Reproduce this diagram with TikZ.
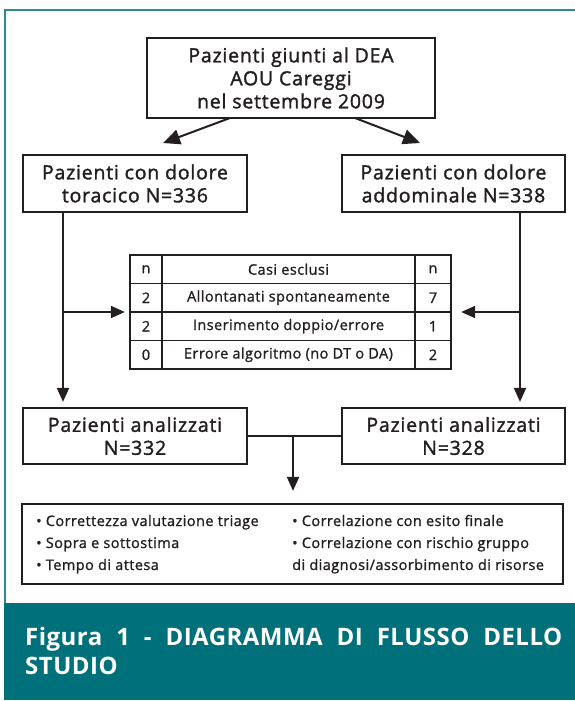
\documentclass[tikz,border=0pt]{standalone}
\usepackage{fontspec}
\setmainfont{Open Sans}
\newfontfamily\boxfont{Open Sans}[LetterSpace=4, FakeBold=1.6]
\newfontfamily\smallfont{Open Sans}[LetterSpace=3, FakeBold=1.2]
\newfontfamily\capfont{Open Sans Bold}[LetterSpace=2]
\usetikzlibrary{arrows.meta,calc}
\definecolor{ink}{HTML}{231F20}
\definecolor{bandc}{HTML}{00707A}
\definecolor{framec}{HTML}{2B8A8F}
\tikzset{
  boxn/.style={draw=ink, line width=2.2pt, inner sep=0pt, align=center, text=ink,
    font=\boxfont\fontsize{19.5}{23}\selectfont},
  conn/.style={draw=ink, line width=2pt},
  arr/.style={conn, -{Triangle[length=14pt,width=12pt]}},
  bigarr/.style={conn, -{Triangle[length=17pt,width=15pt]}},
  cell/.style={text=ink, font=\smallfont\fontsize{14.5}{17}\selectfont, inner sep=0pt},
  item/.style={text=ink, font=\smallfont\fontsize{14.5}{17}\selectfont, inner sep=0pt, anchor=base west},
}
\begin{document}
\begin{tikzpicture}[x=1pt,y=-1pt]
\useasboundingbox (0,0) rectangle (575,701);
% frame and caption band
\draw[framec, line width=2.5pt] (5,603) -- (5,10) -- (575,10);
\fill[bandc] (4,603) rectangle (575,700);
\node[anchor=north west, inner sep=0pt, text width=537pt, align=justify, text=white,
  font=\capfont\fontsize{24}{29}\selectfont] (cap) at (25,627)
  {Figura 1 - DIAGRAMMA DI FLUSSO DELLO\linebreak STUDIO};

% boxes
\node[boxn, minimum width=288pt, minimum height=80pt] (top) at (291,78)
  {Pazienti giunti al DEA\\AOU Careggi\\nel settembre 2009};
\node[boxn, minimum width=224pt, minimum height=57pt] (lbox) at (135,183.5)
  {Pazienti con dolore\\toracico N=336};
\node[boxn, minimum width=223pt, minimum height=57pt] (rbox) at (453.5,183.5)
  {Pazienti con dolore\\addominale N=338};
\node[boxn, minimum width=224pt, minimum height=56pt] (lan) at (135,436)
  {Pazienti analizzati\\N=332};
\node[boxn, minimum width=223pt, minimum height=56pt] (ran) at (453.5,436)
  {Pazienti analizzati\\N=328};
\node[draw=ink, line width=2.2pt, minimum width=541pt, minimum height=80pt, inner sep=0pt] (out) at (292.5,544) {};

% table
\node[draw=ink, line width=2.4pt, minimum width=321pt, minimum height=114pt, inner sep=0pt] (tab) at (290.5,312) {};
\draw[ink, line width=1.6pt] (130,283.5) -- (451,283.5)
  (130,312) -- (451,312) (130,340.5) -- (451,340.5)
  (162,255) -- (162,369) (415,255) -- (415,369);
\node[cell] (h1) at (146,269.25) {n};
\node[cell] (h2) at (288.5,269.25) {Casi esclusi};
\node[cell] (h3) at (433,269.25) {n};
\node[cell] (a1) at (146,297.75) {2};
\node[cell] (a2) at (288.5,297.75) {Allontanati spontaneamente};
\node[cell] (a3) at (433,297.75) {7};
\node[cell] (b1) at (146,326.25) {2};
\node[cell] (b2) at (288.5,326.25) {Inserimento doppio/errore};
\node[cell] (b3) at (433,326.25) {1};
\node[cell] (c1) at (146,354.75) {0};
\node[cell] (c2) at (288.5,354.75) {Errore algoritmo (no DT o DA)};
\node[cell] (c3) at (433,354.75) {2};

% outcome text
\node[item] (o1) at (36,526) {• Correttezza valutazione triage};
\node[item] (o2) at (36,548) {• Sopra e sottostima};
\node[item] (o3) at (36,570) {• Tempo di attesa};
\node[item] (o4) at (292,526) {• Correlazione con esito finale};
\node[item] (o5) at (292,548) {• Correlazione con rischio gruppo};
\node[item] (o6) at (292,570) {di diagnosi/assorbimento di risorse};

% connectors
\coordinate (ts1) at (230,118);
\coordinate (te1) at (163,143);
\coordinate (ts2) at (355,118);
\coordinate (te2) at (420,143);
\coordinate (lx) at (63,0);
\coordinate (rx) at (520,0);
\coordinate (ly) at (0,312);
\coordinate (mx) at (293,0);
\draw[bigarr] (ts1) -- (te1);
\draw[bigarr] (ts2) -- (te2);
\draw[arr, shorten >=5pt] (lbox.south -| lx) -- (lan.north -| lx);
\draw[arr, shorten >=5pt] (rbox.south -| rx) -- (ran.north -| rx);
\draw[arr, shorten >=4pt] (lx |- ly) -- (tab.west |- ly);
\draw[arr, shorten >=9pt] (rx |- ly) -- (tab.east |- ly);
\draw[conn] (lan.east) -- (ran.west);
\draw[arr, shorten >=12pt] (mx |- lan.east) -- (out.north -| mx);
\end{tikzpicture}
\end{document}
